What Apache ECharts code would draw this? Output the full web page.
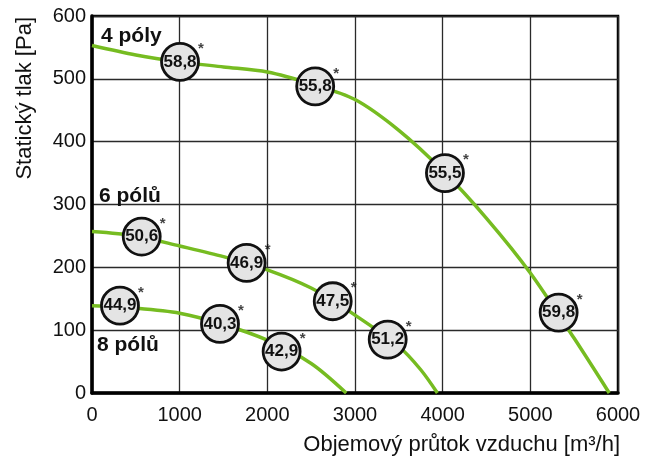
<!DOCTYPE html>
<html>
<head>
<meta charset="utf-8">
<script src="https://cdn.jsdelivr.net/npm/echarts@6/dist/echarts.min.js"></script>
<style>
html,body{margin:0;padding:0;background:#fff;}
#chart{width:662px;height:462px;}
</style>
</head>
<body>
<div id="chart"></div>
<script>
// ---- data ----
const xTickValues = [0, 1000, 2000, 3000, 4000, 5000, 6000];
const yTickValues = [0, 100, 200, 300, 400, 500, 600];

const curve4X = [0, 500, 1000, 1500, 2000, 2500, 3000, 3500, 4000, 4500, 5000, 5500, 5900];
const curve4Y = [553, 538, 527, 519, 511, 492, 467, 418, 354, 278, 191, 87, 0];

const curve6X = [0, 500, 1000, 1500, 2000, 2500, 3000, 3500, 3750, 3940];
const curve6Y = [257, 250, 234, 217, 196, 167, 124, 74, 37, 0];

const curve8X = [0, 500, 1000, 1500, 2000, 2500, 2900];
const curve8Y = [139, 135, 127, 109, 84, 47, 0];

const circleX = [1004, 2546, 4026, 5323, 567, 1764, 2746, 3373, 319, 1460, 2163];
const circleY = [527, 488, 350, 128, 249, 207, 146, 85, 139, 110, 66];
const circleLabel = ['58,8', '55,8', '55,5', '59,8', '50,6', '46,9', '47,5', '51,2', '44,9', '40,3', '42,9'];

const poleLabels = ['4 póly', '6 pólů', '8 pólů'];
const xAxisTitle = 'Objemový průtok vzduchu [m³/h]';
const yAxisTitle = 'Statický tlak [Pa]';

// ---- chart ----
const FONT = '"Liberation Sans", Arial, sans-serif';
const GREEN = '#76bc21';
const zip = (xs, ys) => xs.map((x, i) => [x, ys[i]]);
const circleData = circleX.map((x, i) => ({ value: [x, circleY[i]], name: circleLabel[i] }));

const chart = echarts.init(document.getElementById('chart'), null, { renderer: 'canvas' });
const lineSeries = (d) => ({
  type: 'line', data: d, smooth: 0.3, showSymbol: false, symbol: 'none',
  lineStyle: { color: GREEN, width: 3.5 }, z: 2, silent: true
});
chart.setOption({
  animation: false,
  backgroundColor: '#fff',
  grid: { left: 92, right: 44, top: 16, bottom: 69, show: true, borderColor: '#000', borderWidth: 2.5, backgroundColor: 'transparent' },
  xAxis: {
    type: 'value', min: xTickValues[0], max: xTickValues[xTickValues.length - 1], interval: 1000,
    axisLine: { show: true, onZero: false, lineStyle: { color: '#000', width: 3.5 } },
    axisTick: { show: false },
    splitLine: { show: true, lineStyle: { color: '#2a2a2a', width: 1.3 } },
    axisLabel: { color: '#111', fontFamily: FONT, fontSize: 20, margin: 12, formatter: v => String(v) }
  },
  yAxis: {
    type: 'value', min: yTickValues[0], max: yTickValues[yTickValues.length - 1], interval: 100,
    axisLine: { show: true, lineStyle: { color: '#000', width: 3.5 } },
    axisTick: { show: false },
    splitLine: { show: true, lineStyle: { color: '#2a2a2a', width: 1.3 } },
    axisLabel: { color: '#111', fontFamily: FONT, fontSize: 20, margin: 6, formatter: v => String(v) }
  },
  graphic: [
    { type: 'text', x: 25, y: 17, rotation: Math.PI / 2,
      style: { text: yAxisTitle, fill: '#111', font: '22px ' + FONT, align: 'right', verticalAlign: 'middle' } },
    { type: 'text', x: 620, y: 445,
      style: { text: xAxisTitle, fill: '#111', font: '22px ' + FONT, align: 'right', verticalAlign: 'middle' } },
    { type: 'text', x: 101, y: 36, z: 10,
      style: { text: poleLabels[0], fill: '#111', font: 'bold 21px ' + FONT, align: 'left', verticalAlign: 'middle' } },
    { type: 'text', x: 99, y: 196, z: 10,
      style: { text: poleLabels[1], fill: '#111', font: 'bold 21px ' + FONT, align: 'left', verticalAlign: 'middle' } },
    { type: 'text', x: 97, y: 345, z: 10,
      style: { text: poleLabels[2], fill: '#111', font: 'bold 21px ' + FONT, align: 'left', verticalAlign: 'middle' } }
  ],
  series: [
    lineSeries(zip(curve4X, curve4Y)),
    lineSeries(zip(curve6X, curve6Y)),
    lineSeries(zip(curve8X, curve8Y)),
    {
      type: 'scatter', data: circleData, symbol: 'circle', symbolSize: 37, z: 5,
      itemStyle: { color: '#e4e4e4', borderColor: '#111', borderWidth: 2.8, opacity: 1 },
      label: { show: true, position: 'inside', formatter: p => p.name, color: '#111',
        fontFamily: FONT, fontWeight: 'bold', fontSize: 17 }
    },
    {
      type: 'scatter', data: circleData, symbolSize: 1, z: 6,
      itemStyle: { color: 'rgba(0,0,0,0)' },
      label: { show: true, position: 'inside', formatter: '*', offset: [21, -13], color: '#111',
        fontFamily: FONT, fontWeight: 'bold', fontSize: 15 }
    }
  ]
});
</script>
</body>
</html>
